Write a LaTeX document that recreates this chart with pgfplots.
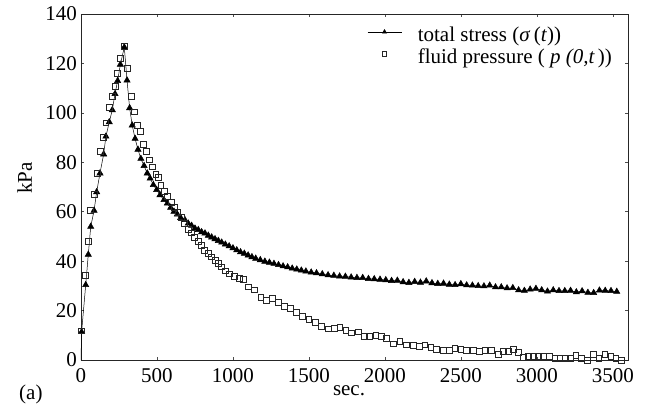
\documentclass[border=0pt]{standalone}
\usepackage{fontspec}
\setmainfont{Liberation Serif}
\usepackage{pgfplots}
\pgfplotsset{compat=1.18}
\usepackage{pgfplotstable}

% total stress sigma(t), kPa
\pgfplotstableread{
t s
4 11.4
31 30.4
48 42.7
64 54
86 60.5
103 68
125 75.6
149 83.3
164 90.5
186 96.3
206 101.2
224 107.7
241 113
259 119.6
285 126.6
303 113.2
320 102
337 95
356 89.6
375 85.2
394 81.5
415 78.6
436 75.6
455 73.5
476 70.9
498 68.9
520 66.8
546 64.8
568 63.4
590 61.7
612 60.1
634 59
656 57.6
684 56.7
706 55.3
728 54.4
750 53.3
772 52.7
794 51.8
816 51.3
838 50.4
860 49.7
882 49
904 48.3
926 47.6
950 46.8
975 46.1
1000 45.3
1025 44.5
1050 43.7
1075 43.1
1100 42.4
1125 41.7
1150 41.1
1180 40.5
1210 39.9
1240 39.5
1270 39
1300 38.5
1330 38
1360 37.6
1390 37.1
1420 36.7
1450 36.3
1480 35.9
1515 35.5
1550 35.2
1588 34.8
1626 34.4
1664 34.2
1702 33.9
1740 33.8
1778 33.5
1816 33.3
1854 33.3
1892 32.9
1930 32.8
1968 32.6
2006 32.4
2044 32.1
2082 32.2
2120 31.6
2158 31.3
2196 31.7
2234 31.4
2272 31.9
2310 31.2
2348 30.9
2386 31.0
2424 30.6
2462 30.4
2500 30.8
2538 30.3
2576 30.2
2614 30.0
2652 29.9
2690 30.2
2728 29.5
2766 29.5
2804 29.1
2842 29.2
2880 28.3
2918 28.1
2956 28.6
2994 28.9
3032 28.3
3070 27.8
3108 28.3
3146 28.0
3184 28.0
3222 28.1
3260 27.5
3298 27.9
3336 27.3
3374 27.2
3412 28.2
3450 28.1
3488 28.0
3526 27.7
}\stresstable

% fluid pressure p(0,t), kPa
\pgfplotstableread{
t p
4 11.8
31 34.4
48 48.2
61 60.5
88 67
107 75.4
125 84.4
147 90.2
164 96
186 102.3
206 106.7
224 110.8
241 116
261 122
285 127
307 118
329 106.7
351 100.4
370 95
388 92.5
410 87.3
428 84.4
448 81
470 78.2
493 75
510 74
526 70.8
546 68.3
568 66.2
594 63.8
616 61.9
638 59.9
660 57.8
682 55.4
704 52.8
726 51.5
748 49.8
770 48.2
792 46.3
814 44.5
838 43.1
860 41.8
882 40.5
904 39.1
926 37.7
952 36.1
978 34.9
1008 33.9
1040 33.2
1066 32.8
1100 29.6
1140 28.4
1183 25.4
1221 24.2
1261 24.9
1301 23.5
1340 21.7
1379 20.8
1419 19.4
1459 17.7
1499 16.6
1542 15.2
1583 13.6
1627 12.6
1666 13
1704 13.4
1743 12
1781 11
1824 11.4
1862 9.6
1901 9.6
1940 10.1
1975 9.7
2011 8.9
2055 6.6
2099 7.6
2143 6.2
2186 6
2226 5.7
2263 6.2
2303 5.3
2340 4.3
2384 3.9
2423 3.9
2461 4.6
2500 4.3
2538 3.9
2581 3.9
2621 3.5
2658 3.9
2702 3.9
2745 2.2
2778 3.5
2811 3.5
2845 4.3
2877 3.2
2910 1.2
2943 1.5
2976 1.5
3009 1.5
3041 1.5
3081 1.6
3118 0.8
3151 0.8
3184 0.8
3224 0.8
3257 1.9
3294 0.8
3331 0
3370 2.2
3408 0.8
3447 2.2
3487 1.5
3520 0.6
3557 0
}\pressuretable

\newcommand\plotfont{\fontsize{21bp}{25bp}\selectfont}

\begin{document}
\begin{tikzpicture}
\plotfont
\begin{axis}[
  scale only axis,
  width=547bp, height=346bp,
  xmin=0, xmax=3600, ymin=0, ymax=140,
  xtick={0,500,...,3500}, ytick={0,20,...,140},
  tick align=inside, major tick length=3bp,
  /pgf/number format/assume math mode=true,
  /pgf/number format/1000 sep={},
  tick label style={font=\plotfont},
  axis line style={black!85, line width=0.8pt},
  every tick/.style={black!70, line width=0.6pt},
  xticklabel style={yshift=-1bp},
  yticklabel style={xshift=3bp},
  xlabel={sec.}, ylabel={kPa},
  label style={font=\plotfont},
  every axis x label/.style={at={(axis description cs:0.49,0)}, anchor=base, yshift=-35bp},
  every axis y label/.style={at={(axis description cs:-0.103,0.526)}, anchor=center, rotate=90},
  legend style={at={(axis description cs:0.523,0.962)}, anchor=north west,
    draw=none, fill=none, inner sep=0pt, column sep=16bp, row sep=3bp,
    font=\plotfont,
    nodes={inner sep=0pt, text height=14bp, text depth=5bp}},
  legend cell align=left,
  legend image code/.code={\draw[mark repeat=2,mark phase=2,#1] plot coordinates {(0bp,5bp) (17bp,5bp) (34bp,5bp)};},
]
% ramp from the origin to the first reading
\addplot[black, line width=0.5pt, forget plot] coordinates {(0,0) (4,11.4)};
\addplot[black, line width=0.5pt, mark=triangle*, mark size=3.6bp,
  mark options={solid, fill=black}, legend image post style={mark size=2.4bp}]
  table[x=t, y=s] {\stresstable};
\addlegendentry{total stress (\textit{σ}\,(\textit{t}))}
\addplot[only marks, mark=square, mark size=2.9bp,
  mark options={draw=black!85, line width=0.7pt},
  legend image post style={mark size=2.2bp}]
  table[x=t, y=p] {\pressuretable};
\addlegendentry{fluid pressure ( \textit{p} \textit{(0,t\,}))}
\end{axis}
\node[anchor=base west] at (-69bp,-39bp) {(a)};
\path[use as bounding box] (-81bp,-53bp) rectangle (565bp,358bp);
\end{tikzpicture}
\end{document}
